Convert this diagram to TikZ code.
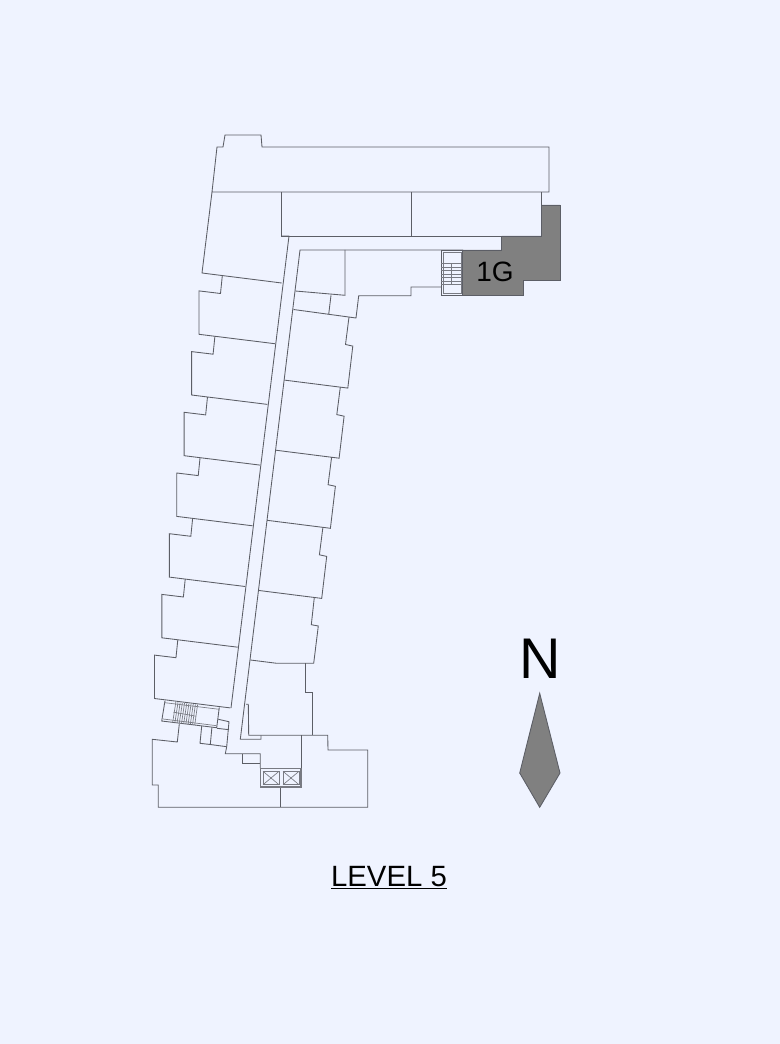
\documentclass[tikz,border=0pt]{standalone}
\usepackage{fontspec}
\setmainfont{Liberation Sans}
\usetikzlibrary{calc}
\definecolor{planbg}{RGB}{239,243,255}
\definecolor{planline}{RGB}{92,94,102}
\definecolor{treadline}{RGB}{120,122,130}
\definecolor{unitfill}{RGB}{128,128,128}
\tikzset{
    wall/.style={draw=planline,line width=.65pt,line join=miter},
    tread/.style={draw=treadline,line width=.5pt},
    unitshade/.style={wall,fill=unitfill},
    planlabel/.style={inner sep=0,text=black}
}

\begin{document}
\begin{tikzpicture}[x=.75pt,y=-.75pt]
    \pgfmathsetmacro{\leftstepx}{-7.42}
    \pgfmathsetmacro{\leftstepy}{60.7}
    \pgfmathsetmacro{\rightstepx}{-8.7}
    \pgfmathsetmacro{\rightstepy}{70.1}
    \fill[planbg] (0,0) rectangle (780,1044);
    % top wing
    \draw[wall] (212,192) -- (217,147) -- (223,147) -- (225,135) -- (261,135) -- (262,147) -- (549,147) -- (549,192) -- cycle;
    \draw[wall] (212,192) -- (202,273) -- (281.7,283);
    \draw[wall] (281,192) -- (281,236) -- (501.5,236);
    \draw[wall] (411,192) -- (411,236);
    \draw[wall] (541.5,192) -- (541.5,205);
    % corridor
    \draw[wall] (281,236) -- (289,236) -- (231,708);
    \draw[wall] (463,250) -- (300,250) -- (240.3,739.3) -- (261,739.3) -- (261,735.3);
    % north rooms
    \draw[wall] (345,250) -- (345,295.3) -- (295.3,291);
    \draw[wall] (331,295.3) -- (328.7,314.3);
    \draw[wall] (293.5,309.5) -- (356,318) -- (358.7,295.7) -- (411,295.7) -- (411,287) -- (441,287);
    % west units
    \foreach \i in {0,...,6}{
        \draw[wall] ({222.3+\i*\leftstepx},{275.7+\i*\leftstepy}) -- ++(-1.8,17.8) -- ++(-21.5,-2.6) -- ++(0,43.4) -- ++(75.8,9.4);
    }
    % east units
    \foreach \i in {0,...,3}{
        \draw[wall] ({349+\i*\rightstepx},{317+\i*\rightstepy}) -- ++(-3.5,27.5) -- ++(7.3,1.6) -- ++(-5,42) -- ++(-63.4,-8);
    }
    \draw[wall] (314.3,597.5) -- (311.3,624.7) -- (318.3,626) -- (313.7,663.3) -- (276.7,663.3) -- (250.3,660);
    % south block
    \draw[wall] (305,663.3) -- (305,692.3) -- (312.7,692.3) -- (312.7,735.3);
    \draw[wall] (246,704.3) -- (248.3,704.3) -- (248.7,735.3) -- (327.7,735.3) -- (328,750) -- (367.7,750) -- (367.7,807.3) -- (158.3,807.3) -- (158.3,785) -- (152.3,785) -- (152.3,739.3) -- (177.3,742) -- (179.3,724);
    \draw[wall] (301.7,735.3) -- (301.7,768);
    \draw[wall] (280.7,787.3) -- (280.7,807.3);
    \draw[wall] (260.3,768) -- (260.3,753.7) -- (225.3,753.7) -- (226.7,746.7) -- (229,721.7) -- (218.3,719.3);
    \draw[wall] (242.3,753.7) -- (242.3,763.7) -- (260.3,763.7);
    \draw[wall] (217,728.3) -- (229,729.7);
    \draw[wall] (226.7,746.7) -- (210.3,744.5) -- (211.9,727.4);
    \draw[wall] (210.3,744.5) -- (200,743.3) -- (201.7,726.2);
    % lifts
    \draw[tread,line width=1.1pt] (260.5,768.5) rectangle (301.2,787);
    \foreach \x in {263,283}{
        \draw[tread] (\x,771.3) rectangle ++(16,13.4);
        \draw[tread] (\x,771.3) -- ++(16,13.4);
        \draw[tread] (\x,784.7) -- ++(16,-13.4);
    }
    % south stair
    \coordinate (stairnw) at (165,700.7);
    \coordinate (stairne) at (219.3,707.3);
    \coordinate (stairse) at (216.7,727.7);
    \coordinate (stairsw) at (161.7,721);
    \draw[wall] (stairnw) -- (stairsw) -- (stairse) -- (stairne);
    \draw[tread] ($(stairsw)+(1.5,-2)$) -- ($(stairse)+(0,-2)$);
    \draw[tread] ($(stairnw)+(0,2)$) -- ($(stairne)+(0,2)$);
    \foreach \t in {.2,.24,...,.61}{
        \draw[tread] ($(stairnw)!\t!(stairne)$) -- ($(stairsw)!\t!(stairse)$);
    }
    \draw[tread] ($(stairnw)!.5!(stairsw)+(10,1.3)$) -- ($(stairne)!.5!(stairse)+(-22,-1.3)$);
    % unit 1G
    \draw[unitshade] (541.5,205) -- (560,205) -- (560,280) -- (523,280) -- (523,295) -- (462.5,295) -- (462.5,250) -- (501.5,250) -- (501.5,236) -- (541.5,236) -- cycle;
    \node[planlabel,font=\fontsize{21}{21}\selectfont] (unitname) at (495,271.7) {1G};
    % east stair
    \draw[wall] (441,250) rectangle (462.5,295);
    \draw[tread] (443,252) rectangle (461,293);
    \foreach \y in {263.5,267,...,285.5}{
        \draw[tread] (441,\y) -- (462,\y);
    }
    \draw[tread] (451.7,263.5) -- (451.7,285);
    % north arrow
    \node[planlabel,font=\fontsize{43}{43}\selectfont] (northname) at (540,659) {N};
    \draw[unitshade] (539.7,693.3) -- (560,773) -- (539.7,807.3) -- (519.7,773) -- cycle;
    % caption
    \node[planlabel,font=\fontsize{22}{22}\selectfont] (levelname) at (389,877.5) {\underline{LEVEL 5}};
\end{tikzpicture}
\end{document}
